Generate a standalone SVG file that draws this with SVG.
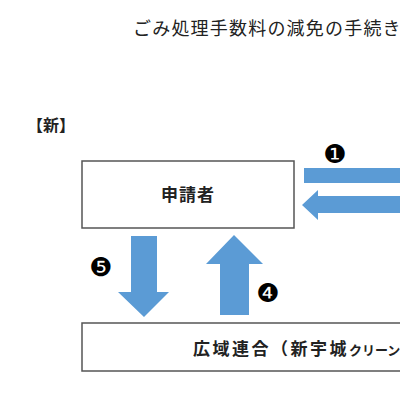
<svg xmlns="http://www.w3.org/2000/svg" width="400" height="400" viewBox="0 0 400 400">
<style>
.t{font-family:"Noto Sans CJK JP","Noto Sans",sans-serif;fill:#222}
.b{font-weight:bold}
.box{fill:#fff;stroke:#555;stroke-width:1.5}
.arr{fill:#5B9BD5}
.num{font-family:"DejaVu Sans",sans-serif;font-size:26px;fill:#000}
</style>
<rect width="400" height="400" fill="#fff"/>
<text class="t" x="133" y="35" font-size="18" letter-spacing="1.2" fill="#333">ごみ処理手数料の減免の手続き</text>
<text class="t b" x="27" y="131" font-size="16">【新】</text>
<g id="node-applicant">
<rect class="box" x="82" y="161" width="212" height="67"/>
<text class="t b" x="188" y="201" font-size="17" text-anchor="middle" letter-spacing="1">申請者</text>
</g>
<g id="node-union">
<rect class="box" x="82" y="323" width="330" height="48"/>
<text class="t b" x="193" y="355" font-size="17" letter-spacing="2.5">広域連合（新宇城<tspan font-size="13" letter-spacing="0">クリーンセンター）</tspan></text>
</g>
<g id="connectors">
<rect class="arr" x="304" y="168" width="100" height="15"/>
<polygon class="arr" points="302,205 318,190 318,196 404,196 404,213 318,213 318,220"/>
<polygon class="arr" points="131,236 157,236 157,292 169,292 144,317 118,292 131,292"/>
<polygon class="arr" points="234,235 263,264 249,264 249,315 220,315 220,264 206,264"/>
<text class="num" x="335" y="163" text-anchor="middle">❶</text>
<text class="num" x="101" y="276" text-anchor="middle">❺</text>
<text class="num" x="268" y="302" text-anchor="middle">❹</text>
</g>
</svg>
